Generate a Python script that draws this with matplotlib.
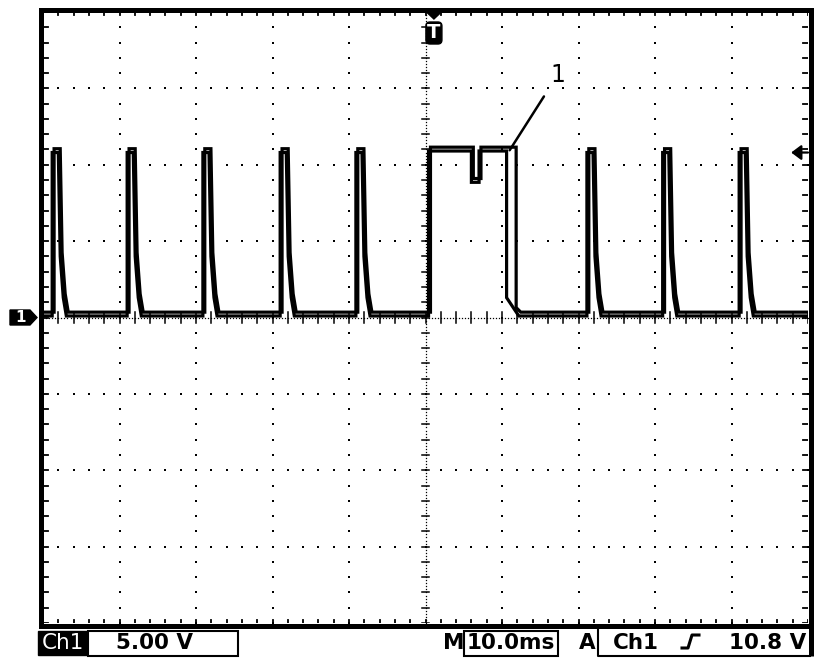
import matplotlib
matplotlib.use('Agg')
import matplotlib.pyplot as plt
import matplotlib.transforms as mtransforms
from matplotlib.patches import Polygon, Rectangle, FancyBboxPatch
from matplotlib.lines import Line2D
import numpy as np

# ---- readings from the screen (time in ms, level in V) ----
pulse_rise_ms = [-48.8, -39.0, -29.1, -19.0, -9.1, 21.1, 31.0, 41.0]
pulse_high_v = 10.8
fall_dt_ms = [0.8, 1.05, 1.45, 1.85]        # time after rise
fall_v = [10.8, 4.0, 1.3, 0.1]
base_v = 0.1

long_rise_ms = 0.4
long_high_v = 10.9
dip_ms = [6.0, 7.0]
dip_v = 8.85
long_fall_ms = [10.6, 11.6]
long_fall_to_v = [1.3, 0.4]
long_end_ms = 12.2

trace_shift_ms = [0.0, 0.25]
trace_shift_v = [0.0, 0.25]

trig_level_v = 10.8
trig_pos_ms = 1.1
ch1_ground_v = 0.0

W, H = 832, 666


def build_trace(k):
    dt = trace_shift_ms[k]
    dv = trace_shift_v[k]
    t = [-50.0]
    v = [base_v]
    pulses = []
    for r in pulse_rise_ms:
        pt = [r, r] + [r + f for f in fall_dt_ms]
        pv = [base_v, pulse_high_v] + fall_v
        pulses.append((r, pt, pv))
    lt = [long_rise_ms, long_rise_ms, dip_ms[0], dip_ms[0], dip_ms[1], dip_ms[1],
          long_fall_ms[k], long_fall_ms[k], long_end_ms]
    lv = [base_v, long_high_v, long_high_v, dip_v, dip_v, long_high_v,
          long_high_v, long_fall_to_v[k], base_v]
    pulses.append((long_rise_ms, lt, lv))
    for _, pt, pv in sorted(pulses, key=lambda p: p[0]):
        t += pt
        v += pv
    t.append(50.0)
    v.append(base_v)
    return np.array(t) + dt, np.array(v) + dv


fig = plt.figure(figsize=(W / 100, H / 100), dpi=100)
fig.patch.set_facecolor('white')
ax = fig.add_axes([43 / W, (H - 623) / H, 765 / W, 611 / H])
ax.set_xlim(-50, 50)
ax.set_ylim(-20, 20)
ax.axis('off')

dot = dict(ls='none', marker='s', ms=1.6, color='black', mew=0)

# graticule dots
for gx in range(-40, 41, 10):
    if gx == 0:
        continue
    ys = np.arange(-20, 20.01, 1.0)
    ax.plot(np.full(len(ys), gx), ys, **dot)
for gy in range(-15, 16, 5):
    if gy == 0:
        continue
    xs = np.arange(-50, 50.01, 2.0)
    ax.plot(xs, np.full(len(xs), gy), **dot)

# centre cross with fine marks
xs = np.arange(-50, 50.01, 0.4)
ax.plot(xs, np.zeros(len(xs)), ls='none', marker='s', ms=0.9, color='black', mew=0)
ys = np.arange(-20, 20.01, 0.2)
ax.plot(np.zeros(len(ys)), ys, ls='none', marker='s', ms=0.9, color='black', mew=0)
for x in np.arange(-50, 50.01, 2.0):
    ax.plot([x, x], [-0.35, 0.35], color='black', lw=1.1)
for y in np.arange(-20, 20.01, 1.0):
    ax.plot([-0.45, 0.45], [y, y], color='black', lw=1.1)

# edge ticks
for y in np.arange(-20, 20.01, 1.0):
    ax.plot([-50, -49.4], [y, y], color='black', lw=1.3)
    ax.plot([49.4, 50], [y, y], color='black', lw=1.3)
for x in np.arange(-50, 50.01, 2.0):
    ax.plot([x, x], [19.8, 20], color='black', lw=1.3)
    ax.plot([x, x], [-20, -19.8], color='black', lw=1.3)

# signal
for k in range(len(trace_shift_ms)):
    t, v = build_trace(k)
    ax.plot(t, v, color='black', lw=2.3, solid_joinstyle='miter')

# annotation "1"
ax.annotate('1', xy=(11.0, 10.95), xytext=(17.3, 15.9),
            fontsize=17, ha='center', va='center',
            arrowprops=dict(arrowstyle='-', color='black', lw=1.8,
                            shrinkA=6, shrinkB=0))

# trigger level arrow (right edge)
ax.annotate('', xy=(47.8, trig_level_v), xytext=(50, trig_level_v),
            arrowprops=dict(arrowstyle='-|>,head_length=0.6,head_width=0.45',
                            color='black', lw=1.6, shrinkA=0, shrinkB=0),
            annotation_clip=False)


def px_anchor(base, x, y):
    return mtransforms.Affine2D() + mtransforms.ScaledTranslation(x, y, base)


# trigger position marker "T"
tr = px_anchor(ax.get_xaxis_transform(), trig_pos_ms, 1.0)
fig.add_artist(Polygon([(-8.5, 1), (8.5, 1), (0, -7)], closed=True,
                       facecolor='black', edgecolor='black', transform=tr))
fig.add_artist(FancyBboxPatch((-6.5, -30.5), 13, 19,
                              boxstyle='round,pad=1.5,rounding_size=4',
                              facecolor='black', edgecolor='black', transform=tr))
fig.text(0, -21, 'T', transform=tr, color='white', fontsize=14,
         fontweight='bold', ha='center', va='center')

# channel 1 ground marker
tr = px_anchor(ax.get_yaxis_transform(), 0.0, ch1_ground_v)
fig.add_artist(Polygon([(-33, 7.5), (-13, 7.5), (-6, 0), (-13, -7.5), (-33, -7.5)],
                       closed=True, facecolor='black', edgecolor='black',
                       transform=tr))
fig.text(-22, 0, '1', transform=tr, color='white', fontsize=11,
         fontweight='bold', ha='center', va='center')

# screen frame
fig.add_artist(Rectangle((40.5 / W, (H - 625.5) / H), 770 / W, 616 / H,
                         transform=fig.transFigure, fill=False,
                         edgecolor='black', lw=3.6))


def fx(px):
    return px / W


def fy(py):
    return 1 - py / H


def box(x0, x1, y0, y1, **kw):
    fig.add_artist(Rectangle((fx(x0), fy(y1)), (x1 - x0) / W, (y1 - y0) / H,
                             transform=fig.transFigure, **kw))


# status line
box(38, 87, 631, 655, facecolor='black', edgecolor='black', lw=1)
fig.text(fx(63), fy(649), 'Ch1', color='white', fontsize=15.5,
         ha='center', va='baseline')
box(88, 238, 631, 656, fill=False, edgecolor='black', lw=1.5)
fig.text(fx(154), fy(649), '5.00 V', fontsize=15.5, fontweight='bold',
         ha='center', va='baseline')

fig.text(fx(454), fy(649), 'M', fontsize=15.5, fontweight='bold',
         ha='center', va='baseline')
box(464, 558, 631, 656, fill=False, edgecolor='black', lw=1.5)
fig.text(fx(511), fy(649), '10.0ms', fontsize=15.5, fontweight='bold',
         ha='center', va='baseline')

fig.text(fx(587), fy(649), 'A', fontsize=15.5, fontweight='bold',
         ha='center', va='baseline')
fig.add_artist(Line2D([fx(598), fx(598), fx(810)], [fy(628), fy(656), fy(656)],
                      transform=fig.transFigure, color='black', lw=1.5))
fig.add_artist(Line2D([fx(810.5), fx(810.5)], [fy(626), fy(655.5)],
                      transform=fig.transFigure, color='black', lw=3.6,
                      solid_capstyle='butt'))
fig.text(fx(636), fy(649), 'Ch1', fontsize=15.5, fontweight='bold',
         ha='center', va='baseline')
fig.add_artist(Line2D([fx(682), fx(688), fx(692), fx(699)],
                      [fy(648), fy(648), fy(635), fy(635)],
                      transform=fig.transFigure, color='black', lw=2.2))
fig.text(fx(806), fy(649), '10.8 V', fontsize=15.5, fontweight='bold',
         ha='right', va='baseline')

fig.savefig('out.png', dpi=100)
